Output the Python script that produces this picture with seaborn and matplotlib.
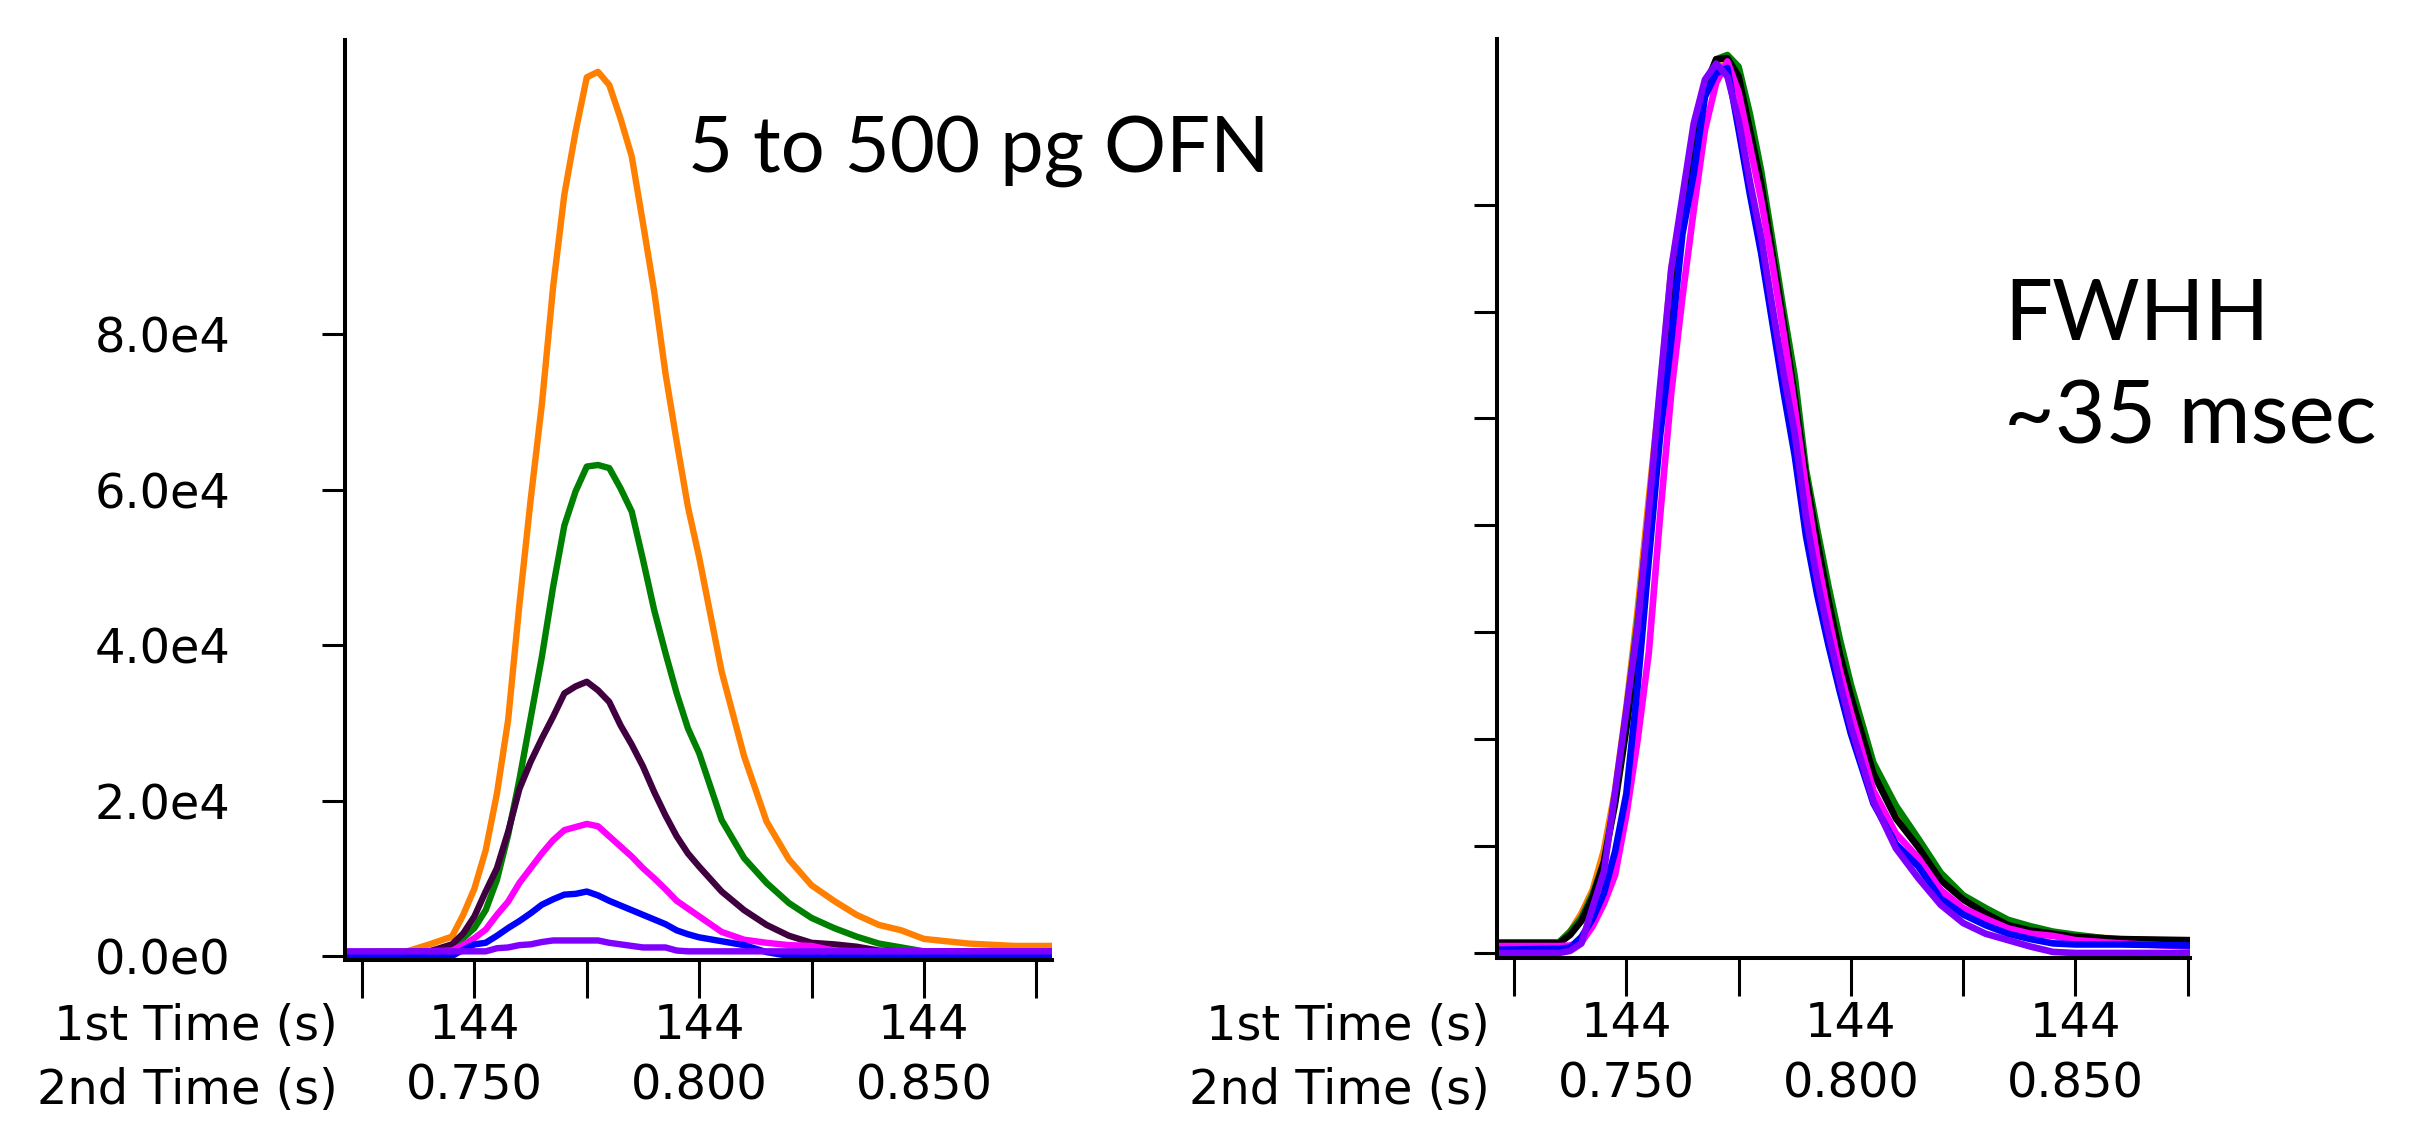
import matplotlib
matplotlib.use("Agg")
import numpy as np
import pandas as pd
import matplotlib.pyplot as plt
import seaborn as sns
from matplotlib.ticker import FixedLocator

# Peak traces, counts in units of 1e4
series_order = ["orange", "green", "dark", "magenta", "blue", "violet"]
left_colors = {"orange": "#ff8000", "green": "#008000", "dark": "#400040",
               "magenta": "#ff00ff", "blue": "#0000ff", "violet": "#8000ff"}
right_colors = dict(left_colors, dark="#000000")

left_time = [0.7212, 0.735, 0.740, 0.745, 0.7475, 0.750, 0.7525, 0.755, 0.7575, 0.760,
             0.7625, 0.765, 0.7675, 0.770, 0.7725, 0.775, 0.7775, 0.780, 0.7825, 0.785,
             0.7875, 0.790, 0.7925, 0.795, 0.7975, 0.800, 0.805, 0.810, 0.815, 0.820,
             0.825, 0.830, 0.835, 0.840, 0.845, 0.850, 0.860, 0.870, 0.8785]
left_orange = [0.05, 0.06, 0.15, 0.25, 0.53, 0.87, 1.36, 2.09, 3.04, 4.52,
               5.87, 7.10, 8.61, 9.80, 10.61, 11.31, 11.38, 11.21, 10.78, 10.29,
               9.43, 8.55, 7.50, 6.62, 5.78, 5.13, 3.66, 2.57, 1.73, 1.24,
               0.91, 0.71, 0.53, 0.40, 0.33, 0.22, 0.16, 0.13, 0.13]
left_green = [0.05, 0.05, 0.06, 0.10, 0.23, 0.36, 0.59, 0.98, 1.56, 2.27,
              3.06, 3.85, 4.75, 5.54, 5.98, 6.30, 6.32, 6.28, 6.02, 5.72,
              5.10, 4.45, 3.90, 3.38, 2.93, 2.61, 1.75, 1.26, 0.94, 0.68,
              0.49, 0.36, 0.25, 0.16, 0.11, 0.06, 0.06, 0.06, 0.06]
left_dark = [0.04, 0.05, 0.06, 0.15, 0.29, 0.51, 0.83, 1.13, 1.60, 2.15,
             2.50, 2.80, 3.08, 3.38, 3.47, 3.53, 3.42, 3.27, 2.97, 2.72,
             2.44, 2.11, 1.81, 1.54, 1.32, 1.15, 0.83, 0.59, 0.40, 0.26,
             0.17, 0.15, 0.12, 0.07, 0.06, 0.06, 0.06, 0.06, 0.06]
left_magenta = [0.05, 0.05, 0.06, 0.07, 0.14, 0.23, 0.34, 0.53, 0.70, 0.94,
                1.13, 1.32, 1.49, 1.62, 1.66, 1.70, 1.67, 1.54, 1.41, 1.28,
                1.13, 1.00, 0.86, 0.71, 0.61, 0.51, 0.31, 0.21, 0.17, 0.14,
                0.13, 0.07, 0.06, 0.06, 0.06, 0.06, 0.06, 0.06, 0.06]
left_blue = [0.00, 0.00, 0.00, 0.00, 0.08, 0.15, 0.17, 0.26, 0.36, 0.45,
             0.55, 0.66, 0.73, 0.79, 0.80, 0.83, 0.78, 0.71, 0.65, 0.59,
             0.53, 0.47, 0.41, 0.33, 0.28, 0.24, 0.19, 0.14, 0.05, 0.00,
             0.00, 0.00, 0.00, 0.00, 0.00, 0.00, 0.00, 0.00, 0.00]
left_violet = [0.06, 0.06, 0.06, 0.06, 0.06, 0.06, 0.06, 0.10, 0.11, 0.14,
               0.15, 0.18, 0.20, 0.20, 0.20, 0.20, 0.20, 0.17, 0.15, 0.13,
               0.11, 0.11, 0.11, 0.07, 0.06, 0.06, 0.06, 0.06, 0.06, 0.06,
               0.06, 0.06, 0.06, 0.06, 0.06, 0.06, 0.06, 0.06, 0.06]

right_time = [0.7212, 0.735, 0.7375, 0.740, 0.7425, 0.745, 0.7475, 0.750, 0.7525, 0.755,
              0.7575, 0.760, 0.7625, 0.765, 0.7675, 0.770, 0.7725, 0.775, 0.7775, 0.780,
              0.7825, 0.785, 0.7875, 0.790, 0.7925, 0.795, 0.7975, 0.800, 0.805, 0.810,
              0.815, 0.820, 0.825, 0.830, 0.835, 0.840, 0.845, 0.850, 0.860, 0.8755]
right_orange = [0.08, 0.09, 0.20, 0.37, 0.59, 0.96, 1.52, 2.30, 3.20, 4.25,
                5.25, 6.40, 7.00, 7.70, 8.15, 8.30, 8.30, 8.18, 7.70, 7.20,
                6.55, 5.90, 5.20, 4.45, 3.85, 3.30, 2.82, 2.42, 1.70, 1.28,
                1.01, 0.70, 0.52, 0.39, 0.28, 0.23, 0.19, 0.16, 0.13, 0.11]
right_green = [0.10, 0.10, 0.20, 0.33, 0.55, 0.85, 1.45, 2.25, 3.10, 4.10,
               5.10, 6.20, 6.95, 7.60, 8.10, 8.36, 8.40, 8.29, 7.85, 7.32,
               6.67, 6.01, 5.39, 4.52, 3.96, 3.43, 2.94, 2.51, 1.78, 1.38,
               1.07, 0.75, 0.54, 0.42, 0.31, 0.25, 0.20, 0.17, 0.12, 0.11]
right_dark = [0.09, 0.09, 0.17, 0.30, 0.52, 0.85, 1.40, 2.10, 2.90, 3.95,
              5.00, 6.05, 6.85, 7.55, 8.10, 8.36, 8.37, 8.20, 7.70, 7.20,
              6.55, 5.90, 5.20, 4.45, 3.85, 3.30, 2.80, 2.40, 1.68, 1.26,
              0.99, 0.68, 0.50, 0.37, 0.26, 0.21, 0.18, 0.15, 0.13, 0.12]
right_magenta = [0.065, 0.065, 0.07, 0.10, 0.25, 0.46, 0.73, 1.29, 1.99, 2.81,
                 4.08, 5.24, 6.14, 6.95, 7.70, 8.14, 8.34, 8.05, 7.55, 7.05,
                 6.45, 5.80, 5.10, 4.35, 3.70, 3.15, 2.65, 2.25, 1.52, 1.12,
                 0.89, 0.59, 0.42, 0.32, 0.23, 0.18, 0.16, 0.12, 0.09, 0.06]
right_blue = [0.03, 0.04, 0.05, 0.15, 0.32, 0.56, 0.95, 1.49, 2.49, 3.68,
              4.83, 5.73, 6.73, 7.29, 8.01, 8.23, 8.28, 7.70, 7.10, 6.55,
              5.90, 5.25, 4.65, 3.90, 3.35, 2.88, 2.45, 2.05, 1.40, 1.02,
              0.81, 0.51, 0.36, 0.26, 0.18, 0.13, 0.09, 0.08, 0.08, 0.07]
right_violet = [0.00, 0.00, 0.02, 0.09, 0.43, 0.76, 1.51, 2.27, 3.05, 4.14,
                5.30, 6.40, 7.08, 7.76, 8.17, 8.32, 8.20, 7.79, 7.22, 6.70,
                6.05, 5.42, 4.86, 4.08, 3.49, 2.99, 2.54, 2.12, 1.42, 0.98,
                0.70, 0.45, 0.28, 0.18, 0.12, 0.06, 0.01, 0.00, 0.00, 0.00]

# axis ticks and labels
major_ticks = [0.750, 0.800, 0.850]
minor_ticks = [0.725, 0.775, 0.825, 0.875]
first_time_labels = ["144", "144", "144"]
second_time_labels = ["0.750", "0.800", "0.850"]
left_yticks = [0, 2e4, 4e4, 6e4, 8e4]
left_ytick_labels = ["0.0e0", "2.0e4", "4.0e4", "6.0e4", "8.0e4"]
right_yticks = [0, 1e4, 2e4, 3e4, 4e4, 5e4, 6e4, 7e4]


def to_long(time, traces):
    frames = []
    for name, vals in traces.items():
        frames.append(pd.DataFrame({"time": time, "counts": np.array(vals) * 1e4, "series": name}))
    return pd.concat(frames, ignore_index=True)


df_left = to_long(left_time, {"orange": left_orange, "green": left_green, "dark": left_dark,
                              "magenta": left_magenta, "blue": left_blue, "violet": left_violet})
df_right = to_long(right_time, {"orange": right_orange, "green": right_green, "dark": right_dark,
                                "magenta": right_magenta, "blue": right_blue, "violet": right_violet})

sns.set_style("ticks", {"axes.edgecolor": "black", "text.color": "black",
                        "xtick.color": "black", "ytick.color": "black",
                        "axes.labelcolor": "black"})
plt.rcParams['font.family'] = ['DejaVu Sans']

W, H = 2434, 1125
fig = plt.figure(figsize=(W / 100, H / 100), dpi=100)
ax_l = fig.add_axes([345 / W, 1 - 960 / H, (1052 - 345) / W, (960 - 40) / H])
ax_r = fig.add_axes([1497 / W, 1 - 958 / H, (2190 - 1497) / W, (958 - 39) / H])

sns.lineplot(data=df_left, x="time", y="counts", hue="series", hue_order=series_order,
             palette=left_colors, linewidth=4.6, estimator=None, sort=False,
             legend=False, ax=ax_l)
sns.lineplot(data=df_right, x="time", y="counts", hue="series", hue_order=series_order,
             palette=right_colors, linewidth=4.8, estimator=None, sort=False,
             legend=False, ax=ax_r)

ax_l.set_xlim(0.7212, 0.8785)
ax_l.set_ylim(-515, 117900)
ax_r.set_xlim(0.7212, 0.8755)
ax_r.set_ylim(-468, 85500)

tick_fs = 34.5
for ax in (ax_l, ax_r):
    sns.despine(ax=ax)
    ax.set_xlabel("")
    ax.set_ylabel("")
    for side in ("left", "bottom"):
        ax.spines[side].set_linewidth(2.9)
        ax.spines[side].set_color("black")
    ax.set_xticks(major_ticks)
    ax.set_xticklabels([f"{a}\n{b}" for a, b in zip(first_time_labels, second_time_labels)],
                       linespacing=1.38)
    ax.xaxis.set_minor_locator(FixedLocator(minor_ticks))
    ax.tick_params(axis="x", which="both", length=27, width=2.2, pad=3,
                   labelsize=tick_fs, direction="out", colors="black")
    ax.tick_params(axis="y", length=16.5, width=2.2, labelsize=tick_fs, pad=66,
                   colors="black")

ax_l.set_yticks(left_yticks)
ax_l.set_yticklabels(left_ytick_labels)
ax_r.set_yticks(right_yticks)
ax_r.set_yticklabels([])

# row captions for the two time scales
for x_right in (338, 1490):
    fig.text(x_right / W, 1 - 1026 / H, "1st Time (s)", ha="right", va="center",
             fontsize=tick_fs, color="black")
    fig.text(x_right / W, 1 - 1091 / H, "2nd Time (s)", ha="right", va="center",
             fontsize=tick_fs, color="black")

# annotations
fig.text(688 / W, 1 - 172 / H, "5 to 500 pg OFN", ha="left", va="baseline",
         fontsize=56, family=["Lato", "DejaVu Sans"], color="black")
fig.text(2004 / W, 1 - 340 / H, "FWHH", ha="left", va="baseline",
         fontsize=61, family=["Lato", "DejaVu Sans"], color="black")
fig.text(2004 / W, 1 - 443 / H, "~35 msec", ha="left", va="baseline",
         fontsize=63, family=["Lato", "DejaVu Sans"], color="black")

fig.savefig("out.png", dpi=100)
